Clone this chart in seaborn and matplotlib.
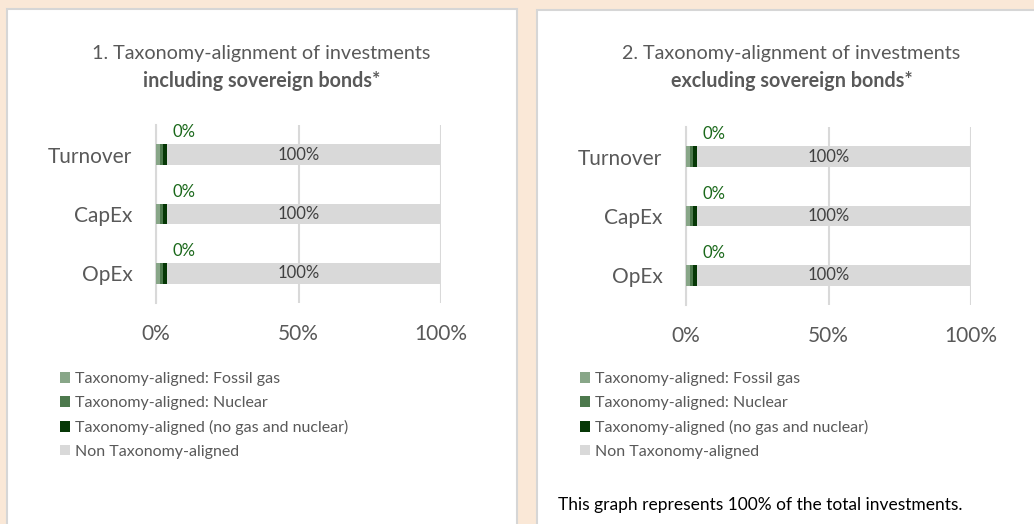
import matplotlib
matplotlib.use("Agg")
import matplotlib.pyplot as plt
from matplotlib.patches import Rectangle, Patch
import pandas as pd
import seaborn as sns

# data (percent of investments)
categories = ["Turnover", "CapEx", "OpEx"]
fossil_gas = [1.4, 1.4, 1.4]
nuclear = [1.2, 1.2, 1.2]
aligned_other = [1.4, 1.4, 1.4]
non_aligned = [96.0, 96.0, 96.0]
# labels as printed on the chart
aligned_labels = ["0%", "0%", "0%"]
non_aligned_labels = ["100%", "100%", "100%"]
x_ticks = [0, 50, 100]
x_tick_labels = ["0%", "50%", "100%"]

titles = [("1. Taxonomy-alignment of investments", "including sovereign bonds*"),
          ("2. Taxonomy-alignment of investments", "excluding sovereign bonds*")]
series_names = ["Taxonomy-aligned: Fossil gas", "Taxonomy-aligned: Nuclear",
                "Taxonomy-aligned (no gas and nuclear)", "Non Taxonomy-aligned"]
colors = ["#88a688", "#4d794d", "#063806", "#d9d9d9"]
note = "This graph represents 100% of the total investments."

W, H = 1034, 524


def draw_panel(fig, ax, title, legend_xy):
    df = pd.DataFrame({"cat": categories, "gas": fossil_gas, "nuc": nuclear,
                       "oth": aligned_other, "non": non_aligned})
    # cumulative sums, drawn from the widest to the narrowest
    df["c1"] = df["gas"]
    df["c2"] = df["c1"] + df["nuc"]
    df["c3"] = df["c2"] + df["oth"]
    df["c4"] = df["c3"] + df["non"]
    for col, c in zip(["c4", "c3", "c2", "c1"], colors[::-1]):
        sns.barplot(data=df, x=col, y="cat", orient="h", color=c, width=0.35,
                    saturation=1, errorbar=None, ax=ax, zorder=3,
                    linewidth=0, edgecolor=c)

    for i in range(len(categories)):
        ax.annotate(aligned_labels[i], (df["c3"][i], i), xytext=(4, 16),
                    textcoords="offset points", ha="left", va="center",
                    fontsize=12, color="#1a681a")
        ax.text(df["c4"][i] / 2, i, non_aligned_labels[i], ha="center",
                va="center", fontsize=12, color="#404040", zorder=4)

    ax.set_xlim(0, 100)
    ax.set_xticks(x_ticks)
    ax.set_xticklabels(x_tick_labels)
    ax.set_xlabel("")
    ax.set_ylabel("")
    ax.tick_params(axis="x", length=0, pad=15, labelsize=15, labelcolor="#595959")
    ax.tick_params(axis="y", which="major", length=0, pad=17, labelsize=15,
                   labelcolor="#595959")
    ax.set_yticks([-0.5, 0.5, 1.5, 2.5], minor=True)
    ax.tick_params(axis="y", which="minor", length=4, width=1.5, color="#d9d9d9")
    ax.grid(axis="x", color="#d9d9d9", lw=1.5)
    ax.grid(axis="y", visible=False)
    ax.set_axisbelow(True)
    for s in ["top", "right", "bottom"]:
        ax.spines[s].set_visible(False)
    ax.spines["left"].set_color("#d9d9d9")
    ax.spines["left"].set_linewidth(1.5)
    ax.set_facecolor("none")

    pos = ax.get_position()
    cx = pos.x0 + pos.width * 0.37
    fig.text(cx, 1 - 54 / H, title[0], ha="center", va="center", fontsize=14.2,
             color="#595959")
    fig.text(cx, 1 - 81 / H, title[1], ha="center", va="center", fontsize=14.2,
             color="#595959", fontweight="bold")

    handles = [Patch(facecolor=c, edgecolor="none") for c in colors]
    fig.legend(handles, series_names, loc="upper left", bbox_to_anchor=legend_xy,
               frameon=False, fontsize=11.5, labelcolor="#595959",
               handlelength=0.65, handleheight=0.65, handletextpad=0.3,
               labelspacing=0.62, borderpad=0, borderaxespad=0)


sns.set_theme(style="white")
plt.rcParams["font.family"] = ["Lato", "DejaVu Sans"]

fig = plt.figure(figsize=(W / 100, H / 100), dpi=100, facecolor="#fae8d7")

# white cards behind the two charts
fig.patches.append(Rectangle((7 / W, -0.05), 510 / W, 1 - 9 / H + 0.05,
                             transform=fig.transFigure, facecolor="white",
                             edgecolor="#d6d6d6", lw=1.5, zorder=-1))
fig.patches.append(Rectangle((537 / W, -0.05), 0.5, 1 - 10 / H + 0.05,
                             transform=fig.transFigure, facecolor="white",
                             edgecolor="#d6d6d6", lw=1.5, zorder=-1))

ax1 = fig.add_axes([156 / W, 1 - 303 / H, 285 / W, 178 / H])
ax2 = fig.add_axes([686 / W, 1 - 305 / H, 285 / W, 178 / H])

draw_panel(fig, ax1, titles[0], (60 / W, 1 - 372 / H))
draw_panel(fig, ax2, titles[1], (580 / W, 1 - 372 / H))

fig.text(558 / W, 1 - 505 / H, note, ha="left", va="center", fontsize=12.5,
         color="black")

fig.savefig("out.png", dpi=100, facecolor=fig.get_facecolor())
